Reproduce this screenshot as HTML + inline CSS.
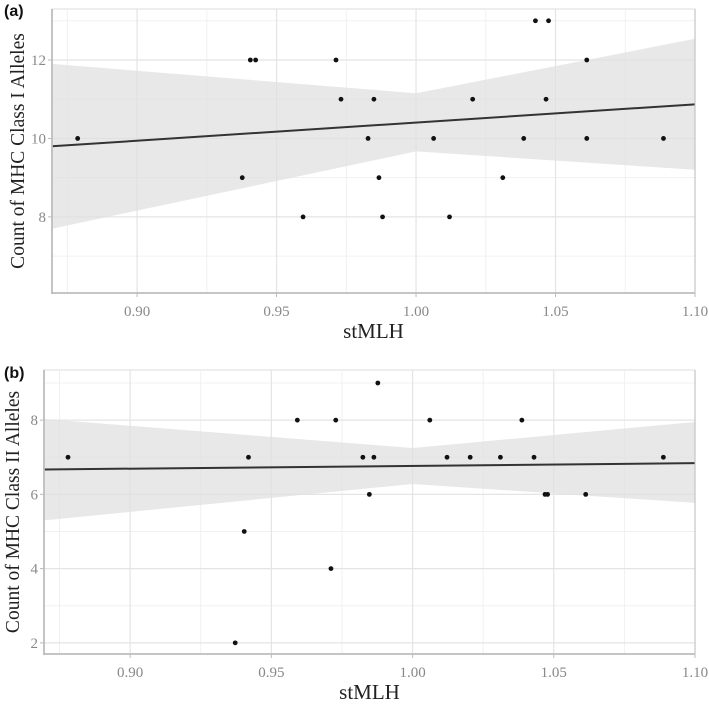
<!DOCTYPE html>
<html><head><meta charset="utf-8">
<style>
html,body{margin:0;padding:0;background:#fff;}
svg{display:block;}
</style></head>
<body>
<svg id="chart" width="709" height="706" xmlns="http://www.w3.org/2000/svg"></svg>
<script>
const xTicks=[0.90,0.95,1.00,1.05,1.10];
const xTickLabels=["0.90","0.95","1.00","1.05","1.10"];
const xMinor=[0.875,0.925,0.975,1.025,1.075];
const aX=[0.8787,0.9377,0.9406,0.9425,0.9595,0.9713,0.9731,0.9828,0.9849,0.9867,0.9880,1.0063,1.0120,1.0203,1.0311,1.0386,1.0428,1.0466,1.0475,1.0612,1.0612,1.0887];
const aY=[10,9,12,12,8,12,11,10,11,9,8,10,8,11,9,10,13,11,13,12,10,10];
const aYTicks=[8,10,12];
const aYMinor=[7,9,11,13];
const aFit=[9.80,10.87];
const aCIx=[0.8695,1.00,1.10];
const aCIupper=[11.9,11.15,12.54];
const aCIlower=[7.7,9.67,9.2];
const bX=[0.878,0.9372,0.9404,0.9419,0.9592,0.9711,0.9728,0.9824,0.9847,0.9863,0.9877,1.0061,1.0122,1.0204,1.0311,1.0387,1.0430,1.0469,1.0478,1.0613,1.0888];
const bY=[7,2,5,7,8,4,8,7,6,7,9,8,7,7,7,8,7,6,6,6,7];
const bYTicks=[2,4,6,8];
const bYMinor=[3,5,7,9];
const bFit=[6.67,6.84];
const bCIx=[0.8695,1.00,1.10];
const bCIupper=[8.03,7.25,7.95];
const bCIlower=[5.3,6.28,5.77];

const NS="http://www.w3.org/2000/svg";
const svg=document.getElementById('chart');
function mk(tag,attrs,parent){const e=document.createElementNS(NS,tag);for(const k in attrs)e.setAttribute(k,attrs[k]);(parent||svg).appendChild(e);return e;}

function band(xs,up,lo,xScale,yScale){
  const top=xs.map((x,i)=>xScale(x).toFixed(1)+','+yScale(up[i]).toFixed(1));
  const bot=xs.map((x,i)=>xScale(x).toFixed(1)+','+yScale(lo[i]).toFixed(1)).reverse();
  return top.concat(bot).join(' ');
}

function panel(o){
  const g=mk('g',{});
  
  
  const x0=0.8695,x1=1.10;
  const xs=v=>o.L+(v-x0)/(x1-x0)*(o.R-o.L);
  const ys=v=>o.B-(v-o.yMin)/(o.yMax-o.yMin)*(o.B-o.T);
  const clipId='clip'+o.tag;
  const cp=mk('clipPath',{id:clipId},g);mk('rect',{x:o.L,y:o.T,width:o.R-o.L,height:o.B-o.T},cp);
  mk('rect',{x:o.L,y:o.T,width:o.R-o.L,height:o.B-o.T,fill:'#fff',stroke:'#dcdcdc','stroke-width':1},g);
  o.yMinor.forEach(v=>{const l=mk('line',{x1:o.L,x2:o.R,y1:ys(v),y2:ys(v),stroke:'#f0f0f0','stroke-width':1},g);});
  xMinor.forEach(v=>{const l=mk('line',{x1:xs(v),x2:xs(v),y1:o.T,y2:o.B,stroke:'#f0f0f0','stroke-width':1},g);});
  o.yTicks.forEach(v=>{const l=mk('line',{x1:o.L,x2:o.R,y1:ys(v),y2:ys(v),stroke:'#e4e4e4','stroke-width':1.2},g);});
  xTicks.forEach(v=>{const l=mk('line',{x1:xs(v),x2:xs(v),y1:o.T,y2:o.B,stroke:'#e4e4e4','stroke-width':1.2},g);});
  const bd=mk('polygon',{points:band(o.ciX,o.ciU,o.ciL,xs,ys),fill:'#e0e0e0','fill-opacity':0.75,'clip-path':'url(#'+clipId+')'},g);
  
  
  const fl=mk('line',{x1:xs(x0),y1:ys(o.fit[0]),x2:xs(x1),y2:ys(o.fit[1]),stroke:'#333','stroke-width':2},g);
  
  
  o.px.forEach((v,i)=>{const c=mk('circle',{cx:xs(v),cy:ys(o.py[i]),r:2.4,fill:'#111'},g);});
  mk('line',{x1:o.L,x2:o.L,y1:o.T,y2:o.B+1,stroke:'#bdbdbd','stroke-width':1.8},g);
  const ax=mk('line',{x1:o.L-1,x2:o.R,y1:o.B,y2:o.B,stroke:'#bdbdbd','stroke-width':1.8},g);
  
  mk('line',{x1:o.R,x2:o.R,y1:o.T,y2:o.B,stroke:'#bdbdbd','stroke-width':1},g);
  o.yTicks.forEach(v=>{
    mk('line',{x1:o.L-4,x2:o.L,y1:ys(v),y2:ys(v),stroke:'#bbb','stroke-width':1},g);
    const t=mk('text',{x:o.L-6,y:ys(v)+5,'text-anchor':'end','font-family':'Liberation Serif, serif','font-size':15,fill:'#888'},g);
    
    t.textContent=String(v);
  });
  xTicks.forEach((v,i)=>{
    mk('line',{x1:xs(v),x2:xs(v),y1:o.B,y2:o.B+4,stroke:'#bbb','stroke-width':1},g);
    const t=mk('text',{x:xs(v),y:o.B+23,'text-anchor':'middle','font-family':'Liberation Serif, serif','font-size':15,fill:'#888'},g);
    
    t.textContent=xTickLabels[i];
  });
  const xt=mk('text',{x:(o.L+o.R)/2,y:o.B+45,'text-anchor':'middle','font-family':'Liberation Serif, serif','font-size':21,fill:'#222'},g);
  
  xt.textContent='stMLH';
  const yt=mk('text',{x:0,y:0,'text-anchor':'middle','font-family':'Liberation Serif, serif','font-size':o.yfs,fill:'#222',transform:'translate('+o.ytx+','+((o.T+o.B)/2)+') rotate(-90)'},g);
  
  yt.textContent=o.ytitle;
  const pl=mk('text',{x:o.labX,y:o.labY,'font-family':'Liberation Sans, sans-serif','font-size':16,'font-weight':'bold',fill:'#111'},g);
  
  pl.textContent=o.label;
}

panel({name:'panel-a',tag:'a',L:52,R:695,T:9,B:293,yMin:6.06,yMax:13.3,yTicks:aYTicks,yMinor:aYMinor,
  px:aX,py:aY,fit:aFit,ciX:aCIx,ciU:aCIupper,ciL:aCIlower,ytitle:'Count of MHC Class I Alleles',ytx:24,yfs:19.5,label:'(a)',labX:4,labY:16});
panel({name:'panel-b',tag:'b',L:44,R:695,T:370,B:654,yMin:1.70,yMax:9.35,yTicks:bYTicks,yMinor:bYMinor,
  px:bX,py:bY,fit:bFit,ciX:bCIx,ciU:bCIupper,ciL:bCIlower,ytitle:'Count of MHC Class II Alleles',ytx:19,yfs:19.5,label:'(b)',labX:4,labY:378});
</script>
</body></html>
